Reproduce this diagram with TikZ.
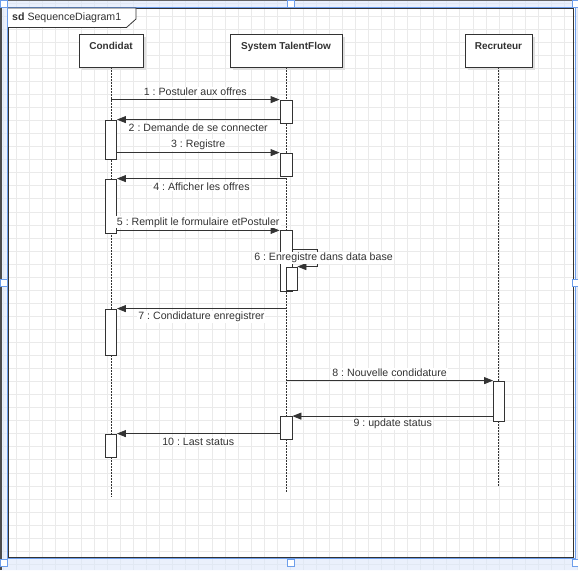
\documentclass[tikz,border=0pt]{standalone}
\usepackage{fontspec}
\setmainfont{Liberation Sans}
\usepackage{tikz}
\usetikzlibrary{arrows.meta,shadows}
\frenchspacing

\definecolor{ink}{HTML}{333333}
\definecolor{selblue}{HTML}{6D9EEB}
\definecolor{selfill}{HTML}{DCE7FA}
\definecolor{gridgray}{HTML}{EAEAEA}

\tikzset{
	head/.style={draw=ink, fill=white, line width=0.8pt, inner sep=0pt, text height=15pt, text depth=18pt, font=\bfseries, drop shadow={shadow xshift=3pt, shadow yshift=-3pt, fill=black!12, opacity=1}},
	act/.style={draw=ink, fill=white, line width=0.8pt, minimum width=11pt, inner sep=0pt},
	life/.style={ink, line width=0.8pt, dash pattern=on 1.5pt off 1.5pt},
	msg/.style={ink, line width=0.8pt, -{Triangle[length=9pt,width=7pt]}},
	mtop/.style={midway, yshift=8pt, fill=white, inner sep=1pt},
	mbot/.style={midway, yshift=-8pt, fill=white, inner sep=1pt},
	handle/.style={draw=selblue, fill=white, line width=0.8pt, minimum size=7pt, inner sep=0pt}
}

\begin{document}
\begin{tikzpicture}[x=1pt, y=-1pt, font=\fontsize{10.6}{12.7}\selectfont, text=ink]
			\useasboundingbox (0,0) rectangle (578,570);
			\fill[white] (0,0) rectangle (578,570);
			\foreach \g in {3,16.05,...,578} \draw[gridgray, line width=0.6pt] (\g,0) -- (\g,570);
			\foreach \g in {3,16.05,...,570} \draw[gridgray, line width=0.6pt] (0,\g) -- (578,\g);
			\fill[selfill, opacity=0.6] (0,0) rectangle (578,7) (0,558) rectangle (578,570) (0,7) rectangle (7,558) (575,7) rectangle (578,558);
			\fill[black!70] (0,0) rectangle (2,570);
			\fill[black!60] (0,0) rectangle (578,1.2);
			\draw[selblue, line width=1pt] (7,7.5) rectangle (575,558);

			\draw[ink, line width=0.8pt] (8,8) rectangle (573,557);
			\draw[ink, line width=0.8pt, fill=white] (8,8) -- (136,8) -- (136,19) -- (126.5,27.5) -- (8,27.5);
			\node[anchor=west, inner sep=0pt] (sd) at (12,17.5) {\textbf{sd} SequenceDiagram1};

			\node[head, minimum width=64pt] (cand) at (111,50.5) {Condidat};
			\node[head, minimum width=112pt] (sys) at (286,50.5) {System TalentFlow};
			\node[head, minimum width=67pt] (rec) at (498.5,50.5) {Recruteur};
			\coordinate (cend) at (111,497);
			\coordinate (send) at (286,492);
			\coordinate (rend) at (498.5,486);
			\draw[life] (cand) -- (cend);
			\draw[life] (sys) -- (send);
			\draw[life] (rec) -- (rend);

			\node[act, minimum height=39pt] (ca1) at (111,139.5) {};
			\node[act, minimum height=54pt] (ca2) at (111,206) {};
			\node[act, minimum height=46pt] (ca3) at (111,332) {};
			\node[act, minimum height=23pt] (ca4) at (111,445.5) {};
			\node[act, minimum width=12pt, minimum height=23pt] (sa1) at (286,111.5) {};
			\node[act, minimum width=12pt, minimum height=23pt] (sa2) at (286,164.5) {};
			\node[act, minimum width=12pt, minimum height=61pt] (sa3) at (286,261.3) {};
			\node[act, minimum height=23pt] (sa3b) at (291.5,278.5) {};
			\node[act, minimum width=12pt, minimum height=23pt] (sa4) at (286,428) {};
			\node[act, minimum height=40pt] (ra1) at (499,401) {};

			\draw[msg] (cand |- sa1.north) -- node[mtop] {1 : Postuler aux offres} (sa1.north west);
			\draw[msg] (sa1.west |- ca1.north) -- node[mbot] {2 : Demande de se connecter} (ca1.north east);
			\draw[msg] (ca1.east |- sa2.north) -- node[mtop] {3 : Registre} (sa2.north west);
			\draw[msg] (sys |- ca2.north) -- node[mbot] {4 : Afficher les offres} (ca2.north east);
			\draw[msg] (ca2.east |- sa3.north) -- node[mtop] {5 : Remplit le formulaire etPostuler} (sa3.north west);
			\coordinate (loop) at (317.5,249.5);
			\draw[msg] (sa3.east |- loop) -- (loop) |- node[pos=0.25, xshift=6pt, fill=white, inner sep=1pt] {6 : Enregistre dans data base} (sa3b.north east);
			\draw[msg] (sys |- ca3.north) -- node[mbot] {7 : Condidature enregistrer} (ca3.north east);
			\draw[msg] (sys |- ra1.north) -- node[mtop] {8 : Nouvelle condidature} (ra1.north west);
			\draw[msg] (ra1.west |- sa4.north) -- node[mbot] {9 : update status} (sa4.north east);
			\draw[msg] (sa4.west |- ca4.north) -- node[mbot] {10 : Last status} (ca4.north east);

			\foreach \hx/\hy [count=\i] in {3.5/3.5, 291/3.5, 576/3.5, 3.5/283, 576/283, 3.5/563, 291/563, 576/563}
				\node[handle] (h\i) at (\hx,\hy) {};
		\end{tikzpicture}
\end{document}
